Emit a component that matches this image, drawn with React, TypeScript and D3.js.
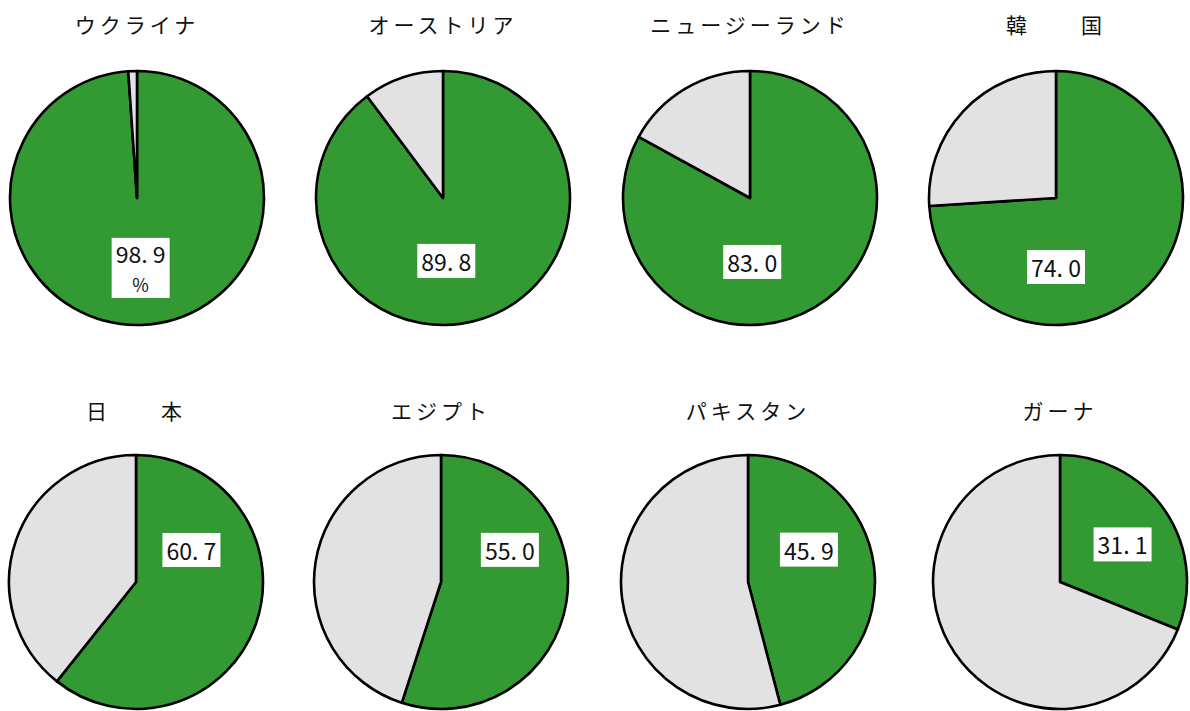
import React from "react";
import * as d3 from "d3";

const countries = ["ウクライナ", "オーストリア", "ニュージーランド", "韓　　国", "日　　本", "エジプト", "パキスタン", "ガーナ"];
const yesValues = [98.9, 89.8, 83.0, 74.0, 60.7, 55.0, 45.9, 31.1];
// label placement: angle (deg, clockwise from top) and distance from centre (px)
const labelAngles = [177, 177, 178, 180, 60, 65, 62, 59];
const labelDistances = [70, 63, 64, 69, 64, 76, 69, 73];

const W = 1190;
const H = 711;
const R = 127;
const GREEN = "#339933";
const GRAY = "#e2e2e2";
const colX = [
  [137, 443, 750, 1056],
  [136, 441, 748, 1060],
];

export default function App() {
  const rowY = [198, 582];
  const titleY = [24, 410];
  const pie = d3.pie<number>().sort(null).value((d) => d);
  const arc = d3.arc<d3.PieArcDatum<number>>().innerRadius(0).outerRadius(R);

  return (
    <svg width={W} height={H} style={{ position: "absolute", left: 0, top: 0, background: "#fff" }}
      fontFamily="'Noto Sans CJK JP', sans-serif">
      {countries.map((name, i) => {
        const r = Math.floor(i / 4);
        const cx = colX[r][i % 4];
        const cy = rowY[r];
        const v = yesValues[i];
        const arcs = pie([v, 100 - v]);
        const a = (labelAngles[i] * Math.PI) / 180;
        const lx = cx + labelDistances[i] * Math.sin(a);
        const ly = cy - labelDistances[i] * Math.cos(a);
        const txt = v.toFixed(1).replace(".", ". ");
        const twoLine = i === 0;
        const bw = 58;
        const bh = twoLine ? 60 : 34;
        return (
          <g key={name}>
            <text x={cx} y={titleY[r]} textAnchor="middle" dominantBaseline="central" fontSize={21}
              letterSpacing={4} fill="#111">{name}</text>
            <g transform={`translate(${cx},${cy})`}>
              {arcs.map((d, j) => (
                <path key={j} d={arc(d) || ""} fill={j === 0 ? GREEN : GRAY} stroke="#000" strokeWidth={2.6}
                  strokeLinejoin="round" />
              ))}
            </g>
            <rect x={lx - bw / 2} y={ly - bh / 2} width={bw} height={bh} fill="#fff" />
            {twoLine ? (
              <g>
                <text x={lx} y={ly - 15} textAnchor="middle" dominantBaseline="central" fontSize={22}
                  textLength={50} lengthAdjust="spacingAndGlyphs" fill="#111">{txt}</text>
                <text x={lx} y={ly + 16} textAnchor="middle" dominantBaseline="central" fontSize={18}
                  fill="#111">%</text>
              </g>
            ) : (
              <text x={lx} y={ly} textAnchor="middle" dominantBaseline="central" fontSize={23}
                textLength={50} lengthAdjust="spacingAndGlyphs" fill="#111">{txt}</text>
            )}
          </g>
        );
      })}
    </svg>
  );
}
